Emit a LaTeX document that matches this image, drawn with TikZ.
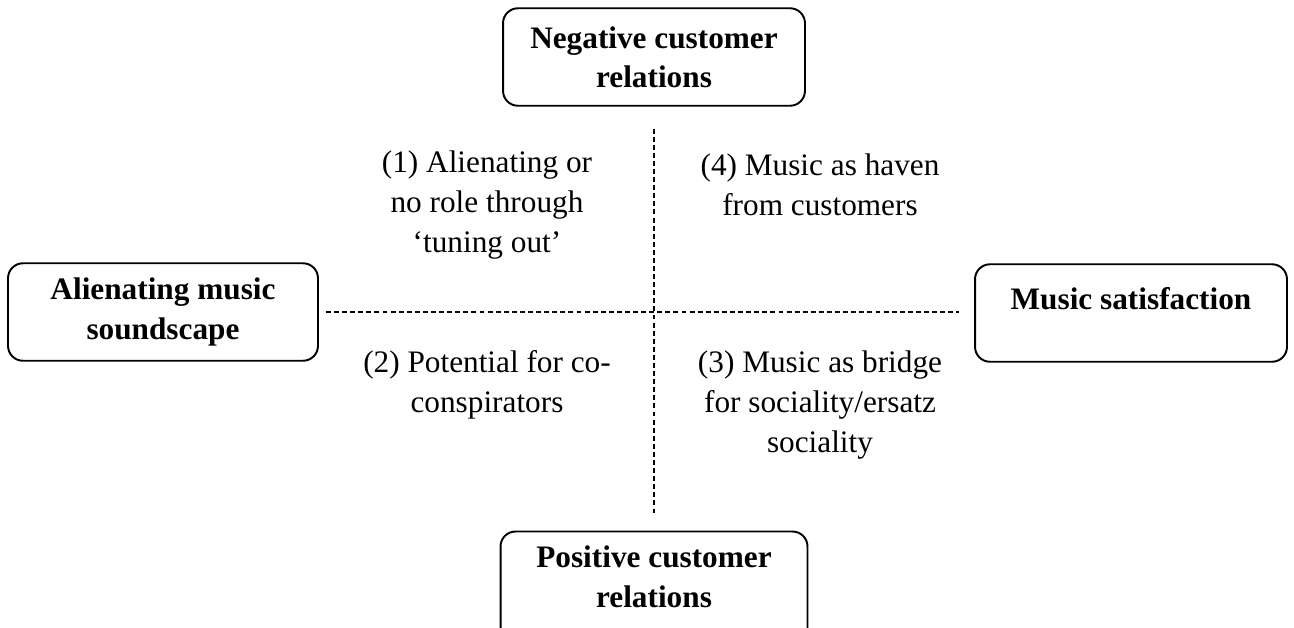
\documentclass[tikz,border=0pt]{standalone}
\usepackage{fontspec}
\setmainfont{Liberation Serif}
\usepackage{tikz}
\usetikzlibrary{positioning}
\tikzstyle{pole} = [rectangle, rounded corners=8.5pt, draw=black, line width=1.1pt, align=center, font=\bfseries\fontsize{17.8}{22.4}\selectfont, minimum height=1.95cm, inner sep=2pt]
\tikzstyle{quad} = [align=center, font=\fontsize{17.8}{22.8}\selectfont, inner sep=0pt]
\tikzstyle{axis} = [line width=0.6pt, dash pattern=on 2.8pt off 1.8pt]

\begin{document}
\begin{tikzpicture}[x=0.02cm, y=-0.02cm]
        \useasboundingbox (0,0) rectangle (1294,627);
        \node (neg) [pole, minimum width=6.04cm] at (654,57) {Negative customer\\relations};
        \node (alien) [pole, minimum width=6.2cm] at (163,312) {Alienating music\\soundscape};
        \node (sat) [pole, minimum width=6.24cm, text depth=0.6cm] at (1131,313) {Music satisfaction};
        \node (pos) [pole, minimum width=6.14cm, minimum height=2.3cm, text depth=0.5cm] at (654,589) {Positive customer\\relations};

        \node (q1) [quad] at (487,205) {(1) Alienating or\\no role through\\`tuning out'};
        \node (q4) [quad] at (820,185) {(4) Music as haven\\from customers};
        \node (q2) [quad] at (487,385) {(2) Potential for co-\\conspirators};
        \node (q3) [quad] at (820,405) {(3) Music as bridge\\for sociality/ersatz\\sociality};

        \draw [axis, shorten <=4pt, shorten >=8.5pt] (alien.east) -- (sat.west |- alien.east);
        \draw [axis, shorten <=12.5pt, shorten >=9.6pt] (neg.south) -- (pos.north);
    \end{tikzpicture}
\end{document}
